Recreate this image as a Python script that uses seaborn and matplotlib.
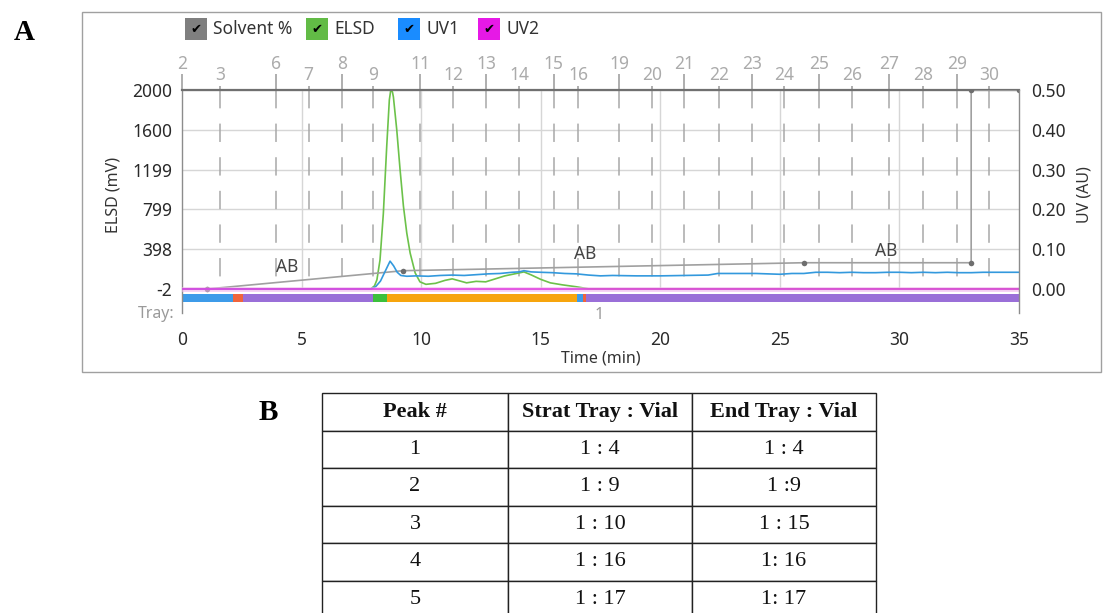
import matplotlib
matplotlib.use("Agg")
import matplotlib.pyplot as plt
from matplotlib.patches import Rectangle
import seaborn as sns

# ---------------- data ----------------
elsd_time = [0.0, 7.9, 8.05, 8.15, 8.28, 8.42, 8.56, 8.67, 8.73, 8.8, 8.84, 8.98, 9.12, 9.26, 9.4,
             9.54, 9.75, 9.95, 10.2, 10.6, 11.0, 11.3, 11.6, 11.9, 12.3, 12.7, 13.1, 13.5, 13.9,
             14.1, 14.3, 14.6, 15.0, 15.4, 15.9, 16.5, 17.0, 35.0]
elsd_mv = [0, 0, 30, 90, 290, 760, 1430, 1900, 2000, 1980, 1930, 1600, 1195, 830, 560,
           360, 160, 70, 45, 55, 85, 100, 80, 60, 75, 70, 100, 130, 150,
           160, 170, 140, 95, 60, 40, 20, 0, 0]

uv1_time = [0.0, 7.9, 8.1, 8.3, 8.5, 8.7, 8.85, 9.0, 9.15, 9.4, 9.8, 10.3, 10.8, 11.3, 11.8,
            12.3, 12.8, 13.3, 13.8, 14.1, 14.3, 14.6, 15.0, 15.5, 16.0, 16.5, 17.0, 17.5, 18.0,
            19.0, 20.0, 21.0, 22.0, 22.4, 23.0, 24.0, 25.0, 25.5, 26.0, 26.5, 27.0, 27.5, 28.0,
            28.5, 29.0, 29.5, 30.0, 30.5, 31.0, 31.5, 32.0, 32.5, 33.0, 33.5, 34.0, 35.0]
uv1_au = [0.0, 0.0, 0.006, 0.02, 0.045, 0.07, 0.058, 0.042, 0.034, 0.032, 0.033, 0.032, 0.034, 0.035, 0.034,
          0.036, 0.038, 0.039, 0.042, 0.043, 0.046, 0.043, 0.042, 0.041, 0.039, 0.038, 0.035, 0.033, 0.034,
          0.033, 0.033, 0.034, 0.035, 0.039, 0.039, 0.039, 0.037, 0.039, 0.039, 0.042, 0.042, 0.041, 0.042,
          0.041, 0.041, 0.042, 0.042, 0.041, 0.042, 0.041, 0.042, 0.041, 0.041, 0.042, 0.042, 0.042]

uv2_time = [0.0, 35.0]
uv2_au = [0.0, 0.0]

solvent_time = [1.05, 9.25, 26.0, 33.0, 33.0, 35.0]
solvent_pct = [0.0, 9.2, 13.2, 13.2, 100.0, 100.0]

vial_labels = ["2", "3", "6", "7", "8", "9", "11", "12", "13", "14", "15", "16",
               "19", "20", "21", "22", "23", "24", "25", "26", "27", "28", "29", "30"]
vial_time = [0.0, 1.59, 3.93, 5.30, 6.69, 7.99, 9.95, 11.33, 12.71, 14.09, 15.55, 16.56,
             18.28, 19.65, 20.99, 22.46, 23.83, 25.17, 26.64, 28.02, 29.57, 30.99, 32.41, 33.75]

tray_start = [0.0, 2.15, 2.54, 8.0, 8.56, 16.53, 16.75, 16.9]
tray_end = [2.15, 2.54, 8.0, 8.56, 16.53, 16.75, 16.9, 35.0]
tray_colors = ["#3d9be9", "#f0643c", "#9a6fd8", "#3cc03c", "#f7a50d", "#3d9be9", "#f0643c", "#9a6fd8"]

ab_time = [4.4, 16.85, 29.45]
ab_mv = [222, 350, 380]

elsd_ticks = [-2, 398, 799, 1199, 1600, 2000]
uv_ticks = [0.0, 0.1, 0.2, 0.3, 0.4, 0.5]
uv_tick_labels = ["0.00", "0.10", "0.20", "0.30", "0.40", "0.50"]
time_ticks = [0, 5, 10, 15, 20, 25, 30, 35]

legend_labels = ["Solvent %", "ELSD", "UV1", "UV2"]
legend_colors = ["#7f7f7f", "#62bb46", "#1a8cff", "#e619e6"]

table_header = ["Peak #", "Strat Tray : Vial", "End Tray : Vial"]
peak_no = ["1", "2", "3", "4", "5"]
start_vial = ["1 : 4", "1 : 9", "1 : 10", "1 : 16", "1 : 17"]
end_vial = ["1 : 4", "1 :9", "1 : 15", "1: 16", "1: 17"]

# ---------------- style ----------------
sns.set_theme(style="white")
plt.rcParams["font.family"] = ["Noto Sans", "DejaVu Sans"]

TICK_FS = 12.5
LABEL_FS = 11.5

W, H = 1103, 613
fig = plt.figure(figsize=(W / 100, H / 100), dpi=100)


def fx(px):
    return px / W


def fy(py):
    return 1 - py / H


Y_TOP, Y_BOT = 90, 313
MV_PER_PX = 2002 / (289 - 90)
ymin = -2 - (Y_BOT - 289) * MV_PER_PX

ax = fig.add_axes([fx(182), fy(Y_BOT), fx(1019) - fx(182), (Y_BOT - Y_TOP) / H])
ax.set_xlim(0, 35)
ax.set_ylim(ymin, 2000)
ax.set_facecolor("none")

# grid
ax.set_yticks(elsd_ticks, labels=[str(v) for v in elsd_ticks])
ax.yaxis.grid(True, color="#d6d6d6", lw=1)
ax.xaxis.grid(False)
ax.vlines(time_ticks[1:-1], -2, 2000, colors="#d6d6d6", lw=1, zorder=0.5)
# vial lines (dashed)
ax.vlines(vial_time, 2000, -2, colors="#a8a8a8", lw=1.1, linestyles=(0, (12, 10)), zorder=0.6)

# tray bar
bar_lo = -2 - 13 * MV_PER_PX
bar_hi = -2 - 5 * MV_PER_PX
ax.broken_barh([(s, e - s) for s, e in zip(tray_start, tray_end)], (bar_lo, bar_hi - bar_lo),
               facecolors=tray_colors, edgecolor="none", zorder=2)

# ELSD
sns.lineplot(x=elsd_time, y=elsd_mv, ax=ax, color="#6cc24a", lw=1.2, estimator=None, sort=False, zorder=3)

for t, v in zip(ab_time, ab_mv):
    ax.text(t, v, "AB", ha="center", va="center", color="#444444", fontsize=TICK_FS, zorder=5)

ax.set_xticks(time_ticks, labels=[str(t) for t in time_ticks])
ax.tick_params(axis="x", length=0, pad=13, labelsize=TICK_FS, labelcolor="#2a2a2a")
ax.tick_params(axis="y", length=0, pad=7, labelsize=TICK_FS, labelcolor="#2a2a2a")
ax.set_xlabel("Time (min)", fontsize=LABEL_FS, color="#333333")
ax.xaxis.set_label_coords(0.5, -(359 - Y_BOT) / (Y_BOT - Y_TOP))
ax.xaxis.label.set_va("center")
ax.set_ylabel("ELSD (mV)", fontsize=LABEL_FS, color="#333333")
ax.yaxis.set_label_coords((113 - 182) / 837, (Y_BOT - 195) / (Y_BOT - Y_TOP))
ax.yaxis.label.set_va("center")

for s in ["bottom", "right"]:
    ax.spines[s].set_visible(False)
ax.spines["left"].set_color("#8c8c8c")
ax.spines["left"].set_linewidth(1)
ax.spines["top"].set_color("#707070")
ax.spines["top"].set_linewidth(1.6)
ax.spines["top"].set_zorder(6)

# solvent axis
axs = ax.twinx()
axs.set_ylim((ymin + 2) / 2002 * 100, 100)
sns.lineplot(x=solvent_time, y=solvent_pct, ax=axs, color="#a0a0a0", lw=1.2, estimator=None,
             sort=False, marker="o", markersize=4, markeredgewidth=0, markerfacecolor="#6e6e6e")
axs.set_yticks([])
axs.set_ylabel("")
for s in axs.spines.values():
    s.set_visible(False)

# UV axis
axu = ax.twinx()
axu.set_ylim((ymin + 2) / 2002 * 0.5, 0.5)
sns.lineplot(x=uv1_time, y=uv1_au, ax=axu, color="#3399dd", lw=1.2, estimator=None, sort=False)
sns.lineplot(x=uv2_time, y=uv2_au, ax=axu, color="#f2b3ee", lw=3.5, estimator=None, sort=False, alpha=0.6)
sns.lineplot(x=uv2_time, y=uv2_au, ax=axu, color="#e030e0", lw=1.3, estimator=None, sort=False, alpha=0.8)
axu.set_yticks(uv_ticks, labels=uv_tick_labels)
axu.tick_params(axis="y", length=0, pad=9, labelsize=TICK_FS, labelcolor="#2a2a2a")
axu.set_ylabel("UV (AU)", fontsize=LABEL_FS, color="#333333")
axu.yaxis.set_label_coords((1084 - 182) / 837, (Y_BOT - 195) / (Y_BOT - Y_TOP))
axu.yaxis.label.set_va("center")
for s in ["left", "top", "bottom"]:
    axu.spines[s].set_visible(False)
axu.spines["right"].set_color("#8c8c8c")
axu.spines["right"].set_linewidth(1)

# top vial axes (staggered)
hi_t = vial_time[0::2]
hi_l = vial_labels[0::2]
lo_t = vial_time[1::2]
lo_l = vial_labels[1::2]
for tt, ll, length, pad in [(hi_t, hi_l, 11.5, 1.0), (lo_t, lo_l, 3.0, 1.5)]:
    sec = ax.secondary_xaxis("top")
    sec.set_xticks(tt, labels=ll)
    sec.tick_params(axis="x", length=length, width=1.1, color="#999999", pad=pad,
                    labelsize=TICK_FS, labelcolor="#ababab")
    for s in sec.spines.values():
        s.set_visible(False)

# Tray labels
fig.text(fx(174), fy(314), "Tray:", ha="right", va="center", fontsize=11.5, color="#9a9a9a")
ax.text(17.46, -2 - 26 * MV_PER_PX, "1", ha="center", va="center", fontsize=11.5, color="#9a9a9a")

# legend
box_x = [185, 306, 398, 478]
for x0, lab, col in zip(box_x, legend_labels, legend_colors):
    fig.add_artist(Rectangle((fx(x0), fy(40)), 22 / W, 22 / H, transform=fig.transFigure,
                             facecolor=col, edgecolor="none"))
    fig.text(fx(x0 + 11), fy(29), "\u2714", ha="center", va="center", fontsize=9.5, color="black",
             family="DejaVu Sans")
    fig.text(fx(x0 + 28), fy(29), lab, ha="left", va="center", fontsize=TICK_FS, color="#333333")

# panel border
fig.add_artist(Rectangle((fx(82), fy(372)), (1101 - 82) / W, (372 - 12) / H, transform=fig.transFigure,
                         fill=False, edgecolor="#a0a0a0", lw=1))

# panel letters
fig.text(fx(24), fy(33), "A", ha="center", va="center", fontsize=21, fontweight="bold",
         family="Liberation Serif", color="black")
fig.text(fx(268), fy(413), "B", ha="center", va="center", fontsize=21, fontweight="bold",
         family="Liberation Serif", color="black")

# table
tax = fig.add_axes([fx(322), fy(618), (876 - 322) / W, (618 - 393) / H])
tax.axis("off")
rows = [[p, s, e] for p, s, e in zip(peak_no, start_vial, end_vial)]
tbl = tax.table(cellText=rows, colLabels=table_header, cellLoc="center", bbox=[0, 0, 1, 1],
                colWidths=[186 / 554, 184 / 554, 184 / 554])
tbl.auto_set_font_size(False)
for (r, c), cell in tbl.get_celld().items():
    cell.set_edgecolor("#222222")
    cell.set_linewidth(1.0)
    cell.set_facecolor("white")
    cell.set_text_props(family="Liberation Serif", fontsize=16,
                        fontweight="bold" if r == 0 else "normal", color="#111111")

fig.savefig("out.png", dpi=100)
